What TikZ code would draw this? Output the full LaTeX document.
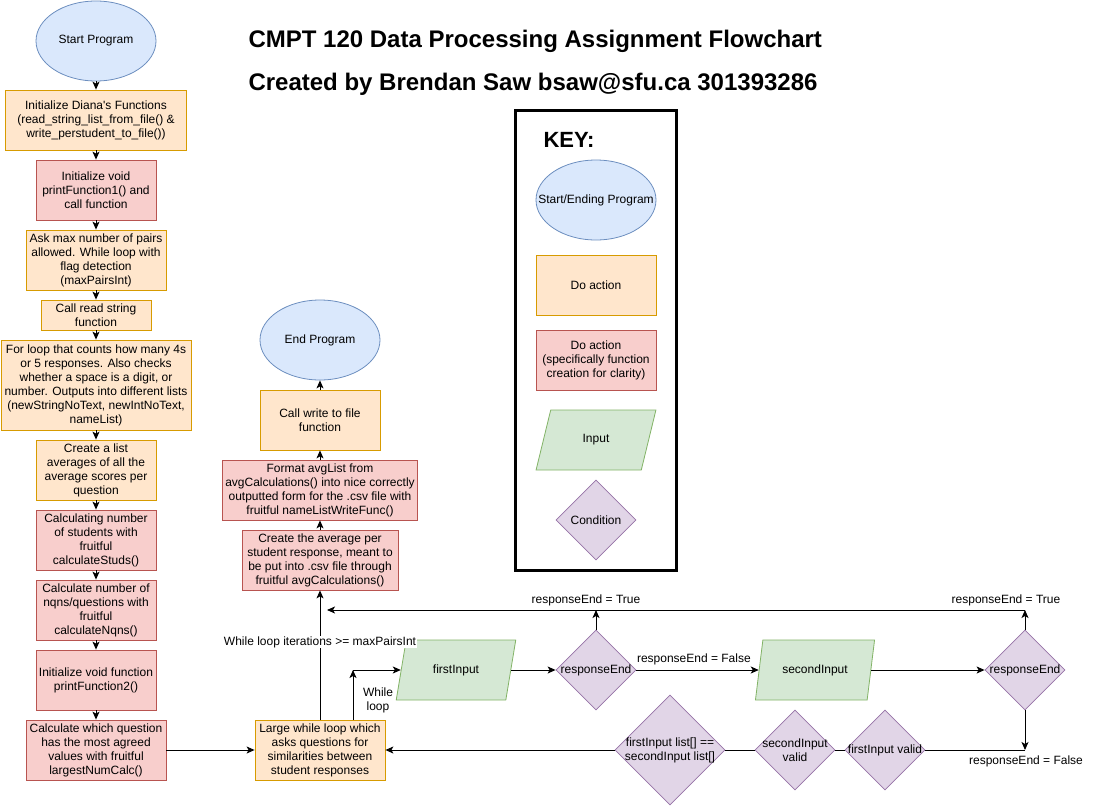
\documentclass[tikz,border=0pt]{standalone}
\usepackage{fontspec}
\setmainfont{Liberation Sans}[Ligatures=TeXOff]
\usetikzlibrary{shapes.geometric,arrows.meta}
\definecolor{bfill}{HTML}{DAE8FC}\definecolor{bdraw}{HTML}{6C8EBF}
\definecolor{ofill}{HTML}{FFE6CC}\definecolor{odraw}{HTML}{D79B00}
\definecolor{rfill}{HTML}{F8CECC}\definecolor{rdraw}{HTML}{B85450}
\definecolor{gfill}{HTML}{D5E8D4}\definecolor{gdraw}{HTML}{82B366}
\definecolor{pfill}{HTML}{E1D5E7}\definecolor{pdraw}{HTML}{9673A6}
\begin{document}
\begin{tikzpicture}[x=1pt,y=-1pt,
  every node/.style={font=\fontsize{12}{14}\selectfont, text=black, align=center},
  base/.style={draw, line width=0.8pt, inner sep=1pt},
  startend/.style={base, ellipse, fill=bfill, draw=bdraw, minimum width=120pt, minimum height=80pt},
  act/.style={base, rectangle, fill=ofill, draw=odraw, minimum height=60pt},
  fn/.style={base, rectangle, fill=rfill, draw=rdraw, minimum height=60pt},
  inp/.style={base, trapezium, trapezium left angle=70, trapezium right angle=110, trapezium stretches=true, fill=gfill, draw=gdraw, minimum width=120pt, minimum height=60pt},
  cond/.style={base, diamond, fill=pfill, draw=pdraw, minimum width=80pt, minimum height=80pt, inner sep=0pt},
  lbl/.style={inner sep=0pt, align=center},
  arr/.style={-{Stealth[length=8pt,width=7pt,inset=2pt]}, line width=1pt},
  ln/.style={line width=1pt},
  titlestyle/.style={anchor=west, font=\fontsize{24}{28}\selectfont\bfseries},
]
\useasboundingbox (0,0) rectangle (1096,806);

% titles
\node[titlestyle] (title1) at (245,41) {CMPT 120 Data Processing Assignment Flowchart};
\node[titlestyle] (title2) at (245,84) {Created by Brendan Saw bsaw@sfu.ca 301393286};

% left column
\node[startend] (start) at (96,41) {Start Program};
\node[act, minimum width=181pt] (b1) at (96,120) {Initialize Diana's Functions\\(read\_string\_list\_from\_file() \&\\write\_perstudent\_to\_file())};
\node[fn, minimum width=120pt] (b2) at (96,190) {Initialize void\\printFunction1() and\\call function};
\node[act, minimum width=140pt] (b3) at (96,260) {Ask max number of pairs\\allowed. While loop with\\flag detection\\(maxPairsInt)};
\node[act, minimum width=110pt, minimum height=30pt] (b4) at (96,315) {Call read string\\function};
\node[act, minimum width=190pt, minimum height=90pt] (b5) at (96,385) {For loop that counts how many 4s\\or 5 responses. Also checks\\whether a space is a digit, or\\number. Outputs into different lists\\(newStringNoText, newIntNoText,\\nameList)};
\node[act, minimum width=120pt] (b6) at (96,470) {Create a list\\averages of all the\\average scores per\\question};
\node[fn, minimum width=120pt] (b7) at (96,540) {Calculating number\\of students with\\fruitful\\calculateStuds()};
\node[fn, minimum width=120pt] (b8) at (96,610) {Calculate number of\\nqns/questions with\\fruitful\\calculateNqns()};
\node[fn, minimum width=120pt] (b9) at (96,680) {Initialize void function\\printFunction2()};
\node[fn, minimum width=140pt] (b10) at (96,750) {Calculate which question\\has the most agreed\\values with fruitful\\largestNumCalc()};

\draw[arr] (start.south) -- (b1.north);
\draw[arr] (b1.south) -- (b2.north);
\draw[arr] (b2.south) -- (b3.north);
\draw[arr] (b3.south) -- (b4.north);
\draw[arr] (b4.south) -- (b5.north);
\draw[arr] (b5.south) -- (b6.north);
\draw[arr] (b6.south) -- (b7.north);
\draw[arr] (b7.south) -- (b8.north);
\draw[arr] (b8.south) -- (b9.north);
\draw[arr] (b9.south) -- (b10.north);

% middle column
\node[startend] (end) at (320,340) {End Program};
\node[act, minimum width=120pt] (cw) at (320,420) {Call write to file\\function};
\node[fn, minimum width=195pt] (fmt) at (320,490) {Format avgList from\\avgCalculations() into nice correctly\\outputted form for the .csv file with\\fruitful nameListWriteFunc()};
\node[fn, minimum width=156pt] (cavg) at (320,560) {Create the average per\\student response, meant to\\be put into .csv file through\\fruitful avgCalculations()};
\node[act, minimum width=130pt] (lw) at (320,750) {Large while loop which\\asks questions for\\similarities between\\student responses};

\draw[arr] (cavg.north) -- (fmt.south);
\draw[arr] (fmt.north) -- (cw.south);
\draw[arr] (cw.north) -- (end.south);
\draw[arr] (b10.east) -- (lw.west);

% loop row
\node[inp] (fi) at (456,670) {firstInput};
\node[cond, label={[lbl]center:responseEnd}] (d1) at (596,670) {};
\node[inp] (si) at (815,670) {secondInput};
\node[cond, label={[lbl]center:responseEnd}] (d2) at (1025,670) {};

\draw[arr] (lw.north) -- node[pos=0.6, fill=white, inner sep=0.5pt] {While loop iterations >= maxPairsInt} (cavg.south);

\coordinate (wl) at (353,670);
\draw[arr] (lw.north -| wl) -- (wl);
\draw[arr] (wl) -- (fi.west);
\node (wltext) at (378,700) {While\\loop};

\draw[arr] (fi.east) -- (d1.west);
\draw[arr] (d1.east) -- node[above=1pt, pos=0.47] {responseEnd = False} (si.west);
\draw[arr] (si.east) -- (d2.west);

\coordinate (t1) at (596,610);
\coordinate (t2) at (1025,610);
\coordinate (tend) at (327,610);
\draw[arr] (d1.north) -- (t1);
\draw[arr] (d2.north) -- (t2);
\draw[arr] (t2) -- (tend);
\node (lt1) at (586,600) {responseEnd = True};
\node (lt2) at (1006,600) {responseEnd = True};

% bottom row
\node[cond, minimum width=110pt, minimum height=110pt, label={[lbl]center:firstInput list[] ==\\secondInput list[]}] (eq) at (670,750) {};
\node[cond, label={[lbl]center:secondInput\\valid}] (siv) at (795,750) {};
\node[cond, label={[lbl]center:firstInput valid}] (fiv) at (885,750) {};
\coordinate (bc) at (1025,750);
\draw[arr] (d2.south) -- (bc);
\node (lf2) at (1026,761) {responseEnd = False};
\draw[ln] (bc) -- (fiv.east);
\draw[ln] (fiv.west) -- (siv.east);
\draw[ln] (siv.west) -- (eq.east);
\draw[arr] (eq.west) -- (lw.east);

% key
\draw[line width=3pt] (515,110) rectangle (676,570);
\node[anchor=west, font=\fontsize{22}{26}\selectfont\bfseries] (keyt) at (540,140) {KEY:};
\node[startend, label={[lbl]center:Start/Ending Program}] (k1) at (596,200) {};
\node[act, minimum width=120pt] (k2) at (596,285) {Do action};
\node[fn, minimum width=120pt] (k3) at (596,360) {Do action\\(specifically function\\creation for clarity)};
\node[inp] (k4) at (596,440) {Input};
\node[cond] (k5) at (596,520) {Condition};
\end{tikzpicture}
\end{document}
